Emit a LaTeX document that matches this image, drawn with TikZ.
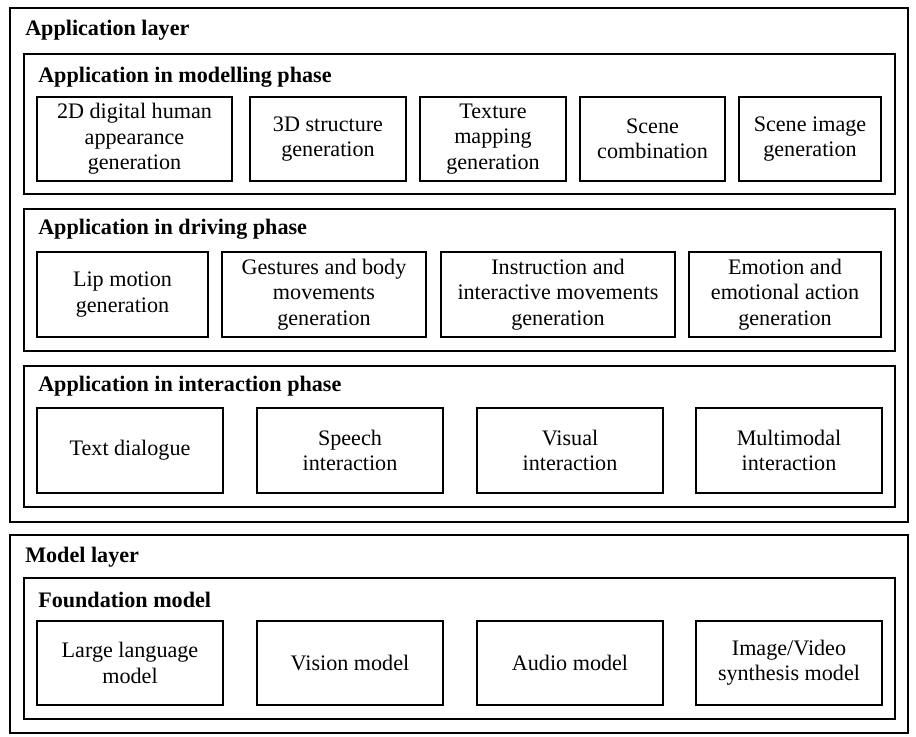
\documentclass[tikz,border=0pt]{standalone}
\usepackage{fontspec}
\setmainfont{Liberation Serif}
\begin{document}
\begin{tikzpicture}[x=0.75pt, y=-0.75pt, font=\fontsize{16.6}{19}\selectfont,
          layer/.style={draw, line width=1.4pt},
          phase/.style={draw, line width=1pt},
          cell/.style={draw, line width=0.9pt, inner sep=0pt, align=center},
          head/.style={anchor=base west, inner sep=0pt, font=\fontsize{16.6}{19}\selectfont\bfseries},
          subhead/.style={anchor=base west, inner sep=0pt, font=\fontsize{16.6}{19}\selectfont\bfseries}]
        \fill[white] (0,0) rectangle (916,737);
        \useasboundingbox (0,0) rectangle (916,737);
        % application layer
        \draw[layer] (10,8) rectangle (908,522);
        \node[head] (tapp) at (25,36) {Application layer};
        % modelling phase
        \draw[phase] (24,54) rectangle (895,194);
        \node[subhead] (tmod) at (38,83) {Application in modelling phase};
        \begin{scope}[every node/.append style={minimum height=63pt}]
          \node[cell, minimum width=146.25pt] (human) at (134.5,139) {2D digital human\\appearance\\generation};
          \node[cell, minimum width=117pt] (struct) at (328,139) {3D structure\\generation};
          \node[cell, minimum width=109.5pt] (texture) at (493,139) {Texture\\mapping\\generation};
          \node[cell, minimum width=108.75pt] (scomb) at (652.5,139) {Scene\\combination};
          \node[cell, minimum width=106.5pt] (simage) at (810,139) {Scene image\\generation};
        \end{scope}
        % driving phase
        \draw[phase] (24,209) rectangle (895,351);
        \node[subhead] (tdrv) at (38,235) {Application in driving phase};
        \begin{scope}[every node/.append style={minimum height=63.75pt}]
          \node[cell, minimum width=128.25pt] (lip) at (122.5,294.5) {Lip motion\\generation};
          \node[cell, minimum width=153pt] (gest) at (324,294.5) {Gestures and body\\movements\\generation};
          \node[cell, minimum width=175.5pt] (instr) at (558,294.5) {Instruction and\\interactive movements\\generation};
          \node[cell, minimum width=144pt] (emo) at (785,294.5) {Emotion and\\emotional action\\generation};
        \end{scope}
        % interaction phase
        \draw[phase] (24,366) rectangle (895,507);
        \node[subhead] (tint) at (38,391) {Application in interaction phase};
        \begin{scope}[every node/.append style={minimum height=63.75pt, minimum width=139.5pt}]
          \node[cell] (text) at (130,450.5) {Text dialogue};
          \node[cell] (speech) at (350,450.5) {Speech\\interaction};
          \node[cell] (visual) at (570,450.5) {Visual\\interaction};
          \node[cell] (multi) at (789,450.5) {Multimodal\\interaction};
        \end{scope}
        % model layer
        \draw[layer] (10,535) rectangle (908,733);
        \node[head] (tmodel) at (25,562) {Model layer};
        \draw[phase] (24,578) rectangle (895,719);
        \node[subhead] (tfound) at (38,607) {Foundation model};
        \begin{scope}[every node/.append style={minimum height=63pt, minimum width=139.5pt}]
          \node[cell] (llm) at (130,663) {Large language\\model};
          \node[cell] (vision) at (350,663) {Vision model};
          \node[cell] (audio) at (570,663) {Audio model};
          \node[cell] (synth) at (789,663) {Image/Video\\synthesis model};
        \end{scope}
      \end{tikzpicture}
\end{document}
